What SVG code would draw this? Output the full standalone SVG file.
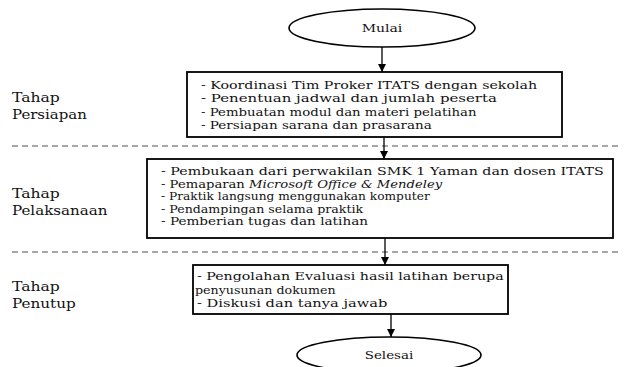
<svg xmlns="http://www.w3.org/2000/svg" width="627" height="367" viewBox="0 0 627 367">
<style>
.box{fill:#fff;stroke:#000;stroke-width:1.8}
.ell{fill:#fff;stroke:#000;stroke-width:1.6}
.t{font-family:"DejaVu Serif","Liberation Serif",serif;font-size:11px;fill:#111}
.t2{font-family:"DejaVu Serif","Liberation Serif",serif;font-size:10.7px;fill:#111}
.e{font-family:"DejaVu Serif","Liberation Serif",serif;font-size:11.5px;fill:#111;text-anchor:middle}
.lbl{font-family:"DejaVu Serif","Liberation Serif",serif;font-size:13px;fill:#111}
.dash{stroke:#8a8a8a;stroke-width:1.3;stroke-dasharray:6,4;fill:none}
.conn{stroke:#000;stroke-width:1.3;fill:none}
</style>
<defs>
<marker id="ah" markerWidth="8" markerHeight="8" refX="8" refY="4" orient="auto" markerUnits="userSpaceOnUse">
<path d="M0,0 L8,4 L0,8 Z" fill="#000"/>
</marker>
</defs>
<rect width="627" height="367" fill="#fff"/>
<g id="separators">
<line class="dash" x1="12" y1="146" x2="620" y2="146"/>
<line class="dash" x1="12" y1="252" x2="622" y2="252"/>
</g>
<g id="labels">
<text class="lbl" transform="translate(12,102) scale(1.2,1)">Tahap</text>
<text class="lbl" transform="translate(12,119) scale(1.15,1)">Persiapan</text>
<text class="lbl" transform="translate(12,198) scale(1.2,1)">Tahap</text>
<text class="lbl" transform="translate(12,215) scale(1.16,1)">Pelaksanaan</text>
<text class="lbl" transform="translate(12,291) scale(1.2,1)">Tahap</text>
<text class="lbl" transform="translate(12,308) scale(1.17,1)">Penutup</text>
</g>
<g id="connectors">
<line class="conn" x1="382" y1="47" x2="382" y2="72" marker-end="url(#ah)"/>
<line class="conn" x1="384" y1="137" x2="384" y2="159" marker-end="url(#ah)"/>
<line class="conn" x1="385" y1="238" x2="385" y2="265" marker-end="url(#ah)"/>
<line class="conn" x1="391" y1="314" x2="391" y2="337" marker-end="url(#ah)"/>
</g>
<g id="mulai">
<ellipse class="ell" cx="382" cy="28" rx="93" ry="19"/>
<text class="e" transform="translate(382,32) scale(1.22,1)">Mulai</text>
</g>
<g id="persiapan">
<rect class="box" x="187" y="72" width="375" height="65"/>
<text class="t" transform="translate(201,89) scale(1.29,1)">- Koordinasi Tim Proker ITATS dengan sekolah</text>
<text class="t" transform="translate(201,102.3) scale(1.36,1)">- Penentuan jadwal dan jumlah peserta</text>
<text class="t" transform="translate(201,115.6) scale(1.21,1)">- Pembuatan modul dan materi pelatihan</text>
<text class="t" transform="translate(201,129) scale(1.23,1)">- Persiapan sarana dan prasarana</text>
</g>
<g id="pelaksanaan">
<rect class="box" x="147" y="159" width="466" height="79"/>
<text class="t2" transform="translate(161,175) scale(1.33,1)">- Pembukaan dari perwakilan SMK 1 Yaman dan dosen ITATS</text>
<text class="t2" transform="translate(161,187.5) scale(1.23,1)">- Pemaparan <tspan font-style="italic">Microsoft Office &amp; Mendeley</tspan></text>
<text class="t2" transform="translate(161,200) scale(1.14,1)">- Praktik langsung menggunakan komputer</text>
<text class="t2" transform="translate(161,212.5) scale(1.18,1)">- Pendampingan selama praktik</text>
<text class="t2" transform="translate(161,225) scale(1.27,1)">- Pemberian tugas dan latihan</text>
</g>
<g id="penutup">
<rect class="box" x="193" y="265" width="315" height="49"/>
<text class="t" transform="translate(197,280) scale(1.29,1)">- Pengolahan Evaluasi hasil latihan berupa</text>
<text class="t" transform="translate(195,294) scale(1.15,1)">penyusunan dokumen</text>
<text class="t" transform="translate(197,307) scale(1.33,1)">- Diskusi dan tanya jawab</text>
</g>
<g id="selesai">
<ellipse class="ell" cx="389" cy="355" rx="92" ry="18"/>
<text class="e" transform="translate(389,359) scale(1.17,1)">Selesai</text>
</g>
</svg>
